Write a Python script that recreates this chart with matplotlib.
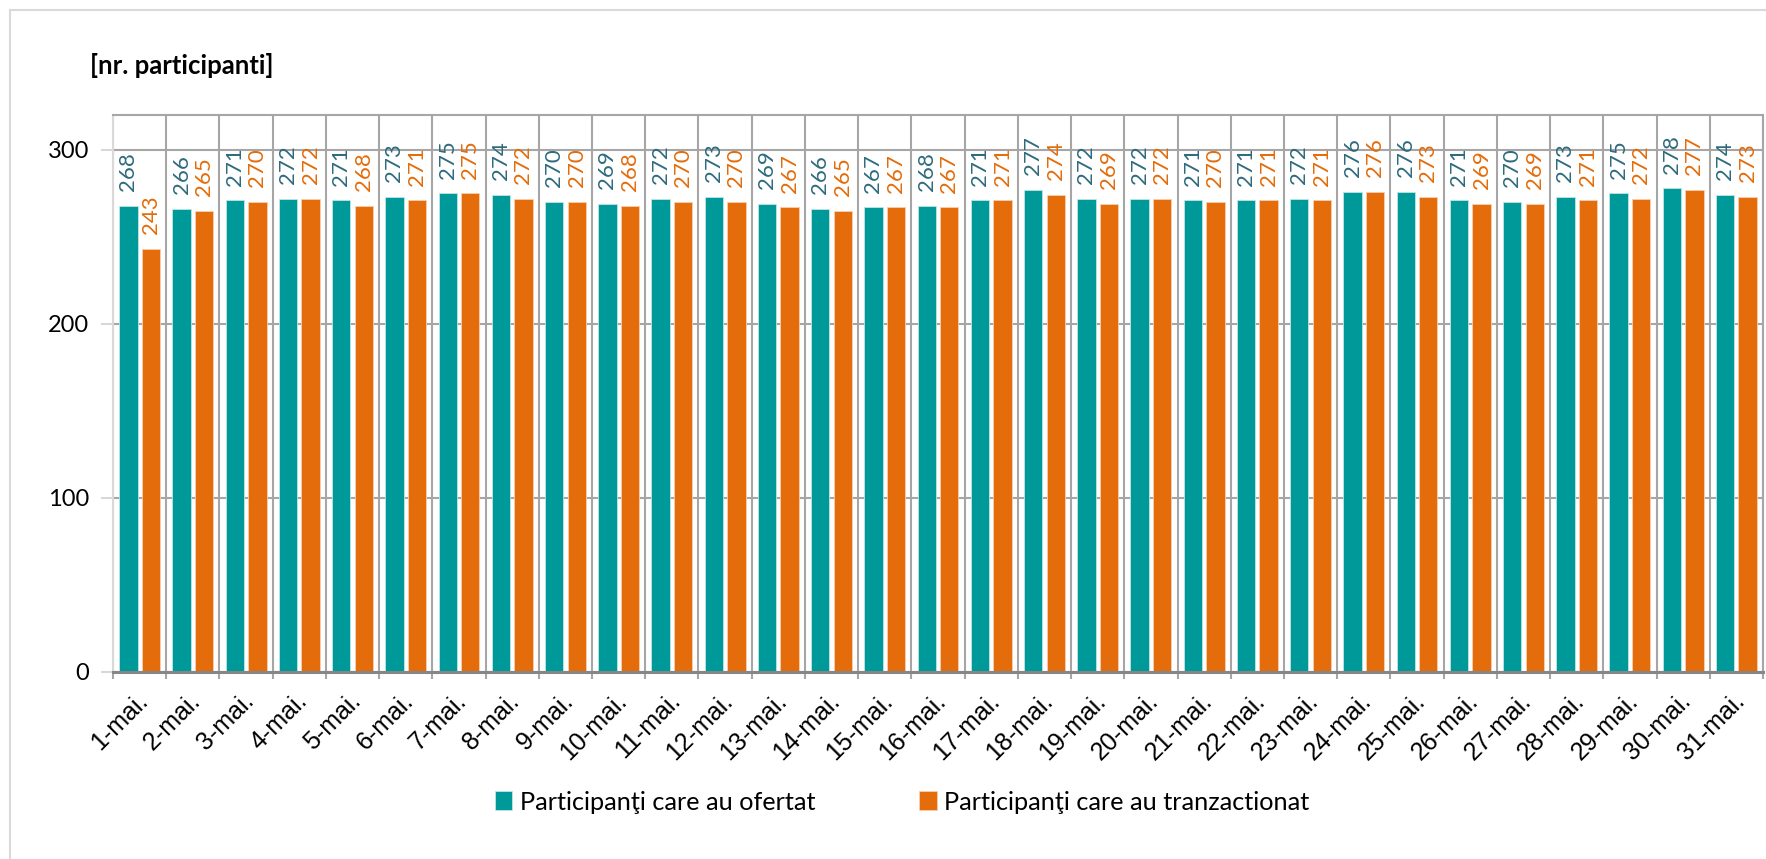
#!/usr/bin/env python3

from matplotlib import pyplot as plt
from matplotlib.patches import Rectangle, Patch
import numpy as np

days = ['1-mai.', '2-mai.', '3-mai.', '4-mai.', '5-mai.', '6-mai.', '7-mai.', '8-mai.',
        '9-mai.', '10-mai.', '11-mai.', '12-mai.', '13-mai.', '14-mai.', '15-mai.', '16-mai.',
        '17-mai.', '18-mai.', '19-mai.', '20-mai.', '21-mai.', '22-mai.', '23-mai.', '24-mai.',
        '25-mai.', '26-mai.', '27-mai.', '28-mai.', '29-mai.', '30-mai.', '31-mai.']
ofertat = [268, 266, 271, 272, 271, 273, 275, 274, 270, 269, 272, 273, 269, 266, 267, 268,
           271, 277, 272, 272, 271, 271, 272, 276, 276, 271, 270, 273, 275, 278, 274]
tranz = [243, 265, 270, 272, 268, 271, 275, 272, 270, 268, 270, 270, 267, 265, 267, 267,
         271, 274, 269, 272, 270, 271, 271, 276, 273, 269, 269, 271, 272, 277, 273]
yticks = [0, 100, 200, 300]

teal = '#009999'
orange = '#e46c0a'
teal_lbl = '#2e6b7d'
grid_c = '#a6a6a6'
calibri = 'Lato'

fig = plt.figure(figsize=(17.66, 8.59), dpi=100)
ax = fig.add_axes([113/1766, 1-672/859, (1763-113)/1766, (672-115)/859])

x = np.arange(len(days))
w = 0.345
off = 0.212
ax.bar(x - off, ofertat, w, color=teal, edgecolor='#bfe5e5', linewidth=0.6, zorder=3)
ax.bar(x + off, tranz, w, color=orange, edgecolor='#f7cfae', linewidth=0.6, zorder=3)

# value labels, rotated, above the bars
for i in range(len(days)):
    ax.annotate(str(ofertat[i]), (x[i] - off, ofertat[i]), xytext=(0, 10.5), textcoords='offset points',
                rotation=90, ha='center', va='bottom', color=teal_lbl, fontsize=16, family=calibri)
    ax.annotate(str(tranz[i]), (x[i] + off, tranz[i]), xytext=(0, 10.5), textcoords='offset points',
                rotation=90, ha='center', va='bottom', color=orange, fontsize=16, family=calibri)

ax.set_xlim(-0.5, len(days) - 0.5)
ax.set_ylim(0, 320)

ax.set_yticks(yticks)
ax.set_yticklabels([str(v) for v in yticks], family=calibri, fontsize=17)
ax.tick_params(axis='y', length=9, width=1.2, color='#d0d0d0', pad=8)

ax.set_xticks(x + 0.08)
ax.set_xticklabels(days, rotation=45, ha='right', va='center', rotation_mode='anchor',
                   family='Liberation Sans', fontsize=18)
ax.tick_params(axis='x', which='major', length=0, pad=18)
ax.set_xticks(np.arange(-0.5, len(days)), minor=True)
ax.tick_params(axis='x', which='minor', length=5, width=1.5, color=grid_c)

ax.grid(axis='y', which='major', color=grid_c, linewidth=1.5, zorder=0)
ax.grid(axis='x', which='minor', color=grid_c, linewidth=1.5, zorder=0)
ax.set_axisbelow(True)

ax.spines['left'].set_color('#d9d9d9')
ax.spines['left'].set_linewidth(1.5)
ax.spines['top'].set_color(grid_c)
ax.spines['top'].set_linewidth(1.5)
ax.spines['right'].set_color(grid_c)
ax.spines['right'].set_linewidth(1.5)
ax.spines['bottom'].set_color('#868686')
ax.spines['bottom'].set_linewidth(2.2)
ax.spines['bottom'].set_zorder(4)

fig.text(90/1766, 1-65/859, '[nr. participanti]', ha='left', va='center',
         fontsize=18.5, fontweight='bold', family=calibri)

handles = [Patch(facecolor=teal, edgecolor='#bfe5e5', linewidth=0.6),
           Patch(facecolor=orange, edgecolor='#f7cfae', linewidth=0.6)]
fig.legend(handles, ['Participanţi care au ofertat', 'Participanţi care au tranzactionat'],
           loc='center', bbox_to_anchor=(902/1766, 1-802/859), ncol=2, frameon=False,
           prop={'family': calibri, 'size': 18.2}, handlelength=0.7, handleheight=0.75,
           handletextpad=0.3, columnspacing=4.1)

# outer chart border
fig.patches.append(Rectangle((10/1766, -0.1), 1.2, 1.1 - 10/859, transform=fig.transFigure,
                             fill=False, edgecolor='#d9d9d9', linewidth=1.5))

plt.savefig('out.png', dpi=100)
